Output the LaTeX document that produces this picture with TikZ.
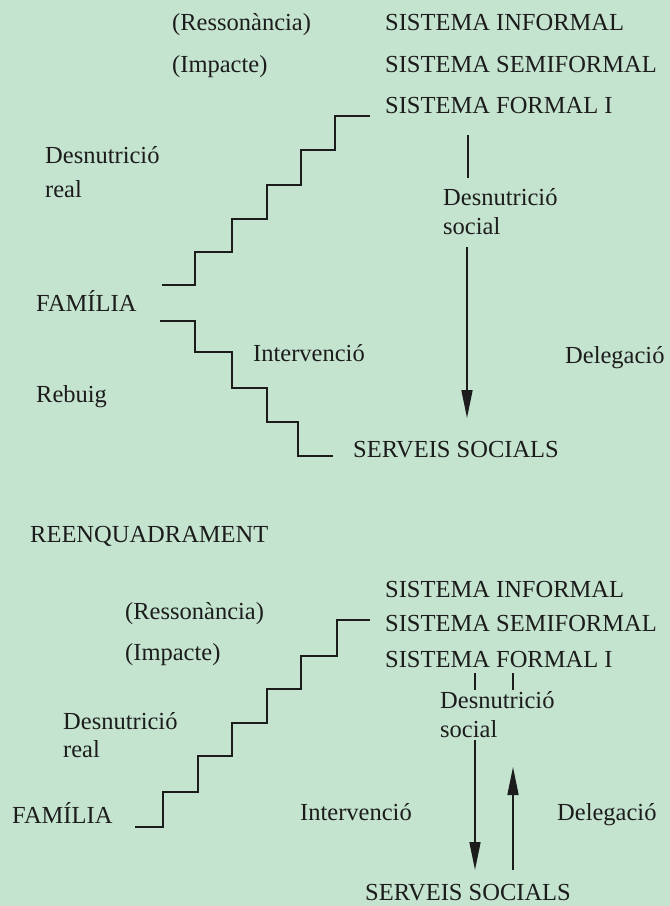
\documentclass[tikz,border=0pt]{standalone}
\usepackage{fontspec}
\setmainfont{Liberation Serif}
\usetikzlibrary{arrows.meta}
\definecolor{bg}{RGB}{197,228,208}
\definecolor{ink}{RGB}{28,28,28}
\begin{document}
\begin{tikzpicture}[x=1pt,y=-1pt,
  lbl/.style={inner sep=0pt, anchor=base west, text=ink, font=\fontsize{24.5}{28}\selectfont},
  stair/.style={draw=ink, line width=1.7pt, line join=miter},
  tick/.style={draw=ink, line width=1.7pt},
  arr/.style={draw=ink, line width=1.7pt, -{Triangle[length=28pt,width=11pt]}}]
\fill[bg] (0,0) rectangle (670,906);
\useasboundingbox (0,0) rectangle (670,906);

% ---------- upper diagram ----------
\node[lbl] (ures) at (172,30) {(Ressonància)};
\node[lbl] (uimp) at (172,72) {(Impacte)};
\node[lbl] (uinf) at (385,30) {SISTEMA INFORMAL};
\node[lbl] (usemi) at (385,72) {SISTEMA SEMIFORMAL};
\node[lbl] (uform) at (385,113) {SISTEMA FORMAL I};
\node[lbl] (udreal) at (45,163) {Desnutrició};
\node[lbl] (ureal) at (45,197) {real};
\node[lbl] (udsoc) at (443,205) {Desnutrició};
\node[lbl] (usoc) at (443,234) {social};
\node[lbl] (ufam) at (36,311) {FAMÍLIA};
\node[lbl] (uint) at (253,361) {Intervenció};
\node[lbl] (udel) at (565,363) {Delegació};
\node[lbl] (ureb) at (36,402) {Rebuig};
\node[lbl] (userv) at (353,457) {SERVEIS SOCIALS};

\coordinate (uaS) at (162,285);
\coordinate (uaE) at (370,116);
\draw[stair] (uaS) -- (195,285) -- (195,252) -- (232,252) -- (232,219) -- (267,219)
  -- (267,185) -- (301,185) -- (301,150) -- (335,150) -- (335,116) -- (uaE);
\coordinate (udS) at (160,321);
\coordinate (udE) at (333,456);
\draw[stair] (udS) -- (195,321) -- (195,352) -- (232,352) -- (232,388) -- (267,388)
  -- (267,422) -- (298,422) -- (298,456) -- (udE);

\coordinate (utA) at (468,135);
\coordinate (utB) at (468,178);
\draw[tick] (utA) -- (utB);
\coordinate (uarA) at (467,247);
\coordinate (uarB) at (467,418);
\draw[arr] (uarA) -- (uarB);

% ---------- lower diagram ----------
\node[lbl] (reenq) at (30,542) {REENQUADRAMENT};
\node[lbl] (linf) at (385,597) {SISTEMA INFORMAL};
\node[lbl] (lres) at (125,619) {(Ressonància)};
\node[lbl] (lsemi) at (385,631) {SISTEMA SEMIFORMAL};
\node[lbl] (limp) at (125,660) {(Impacte)};
\node[lbl] (lform) at (385,667) {SISTEMA FORMAL I};
\node[lbl] (ldsoc) at (440,708) {Desnutrició};
\node[lbl] (lsoc) at (440,737) {social};
\node[lbl] (ldreal) at (63,729) {Desnutrició};
\node[lbl] (lreal) at (63,757) {real};
\node[lbl] (lint) at (300,820) {Intervenció};
\node[lbl] (ldel) at (557,820) {Delegació};
\node[lbl] (lfam) at (12,823) {FAMÍLIA};
\node[lbl] (lserv) at (365,900) {SERVEIS SOCIALS};

\coordinate (laS) at (135,827);
\coordinate (laE) at (370,620);
\draw[stair] (laS) -- (163,827) -- (163,792) -- (198,792) -- (198,756) -- (232,756)
  -- (232,723) -- (267,723) -- (267,689) -- (301,689) -- (301,656) -- (337,656)
  -- (337,620) -- (laE);

\coordinate (ltA1) at (475,673);
\coordinate (ltA2) at (475,690);
\coordinate (ltB1) at (513,673);
\coordinate (ltB2) at (513,690);
\draw[tick] (ltA1) -- (ltA2);
\draw[tick] (ltB1) -- (ltB2);
\coordinate (ldnA) at (475,740);
\coordinate (ldnB) at (475,870);
\draw[arr] (ldnA) -- (ldnB);
\coordinate (lupA) at (513,870);
\coordinate (lupB) at (513,767);
\draw[arr] (lupA) -- (lupB);
\end{tikzpicture}
\end{document}
